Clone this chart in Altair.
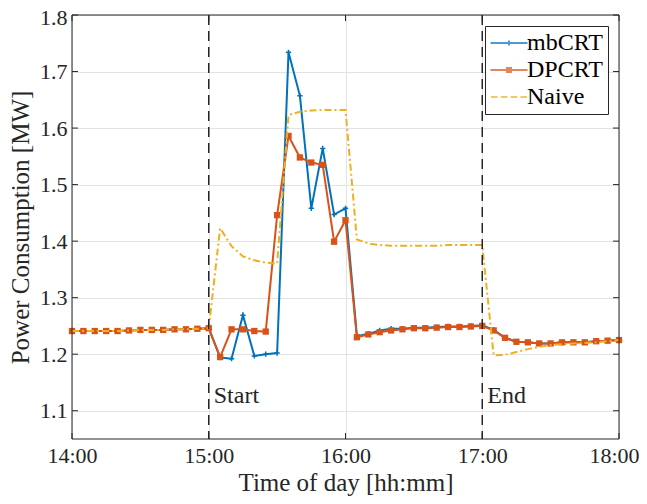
import altair as alt
import pandas as pd

# ---- data ----
minutes = list(range(0, 241, 5))  # minutes after 14:00, 5-min steps to 18:00

mbcrt = [1.241, 1.241, 1.241, 1.241, 1.241, 1.242, 1.243, 1.243, 1.243, 1.244, 1.244, 1.245, 1.246,
         1.194, 1.192, 1.269, 1.197, 1.200, 1.202, 1.734, 1.657, 1.458, 1.564, 1.447, 1.458,
         1.232, 1.236, 1.242, 1.245, 1.245, 1.247, 1.247, 1.248, 1.249, 1.249, 1.250, 1.251,
         1.243, 1.229, 1.222, 1.221, 1.219, 1.219, 1.221, 1.221, 1.221, 1.223, 1.224, 1.225]

dpcrt = [1.241, 1.241, 1.241, 1.241, 1.241, 1.242, 1.243, 1.243, 1.243, 1.244, 1.244, 1.245, 1.246,
         1.195, 1.244, 1.244, 1.241, 1.240, 1.446, 1.586, 1.548, 1.539, 1.535, 1.399, 1.437,
         1.230, 1.235, 1.239, 1.242, 1.244, 1.246, 1.246, 1.247, 1.248, 1.248, 1.249, 1.250,
         1.242, 1.229, 1.222, 1.221, 1.219, 1.219, 1.221, 1.221, 1.221, 1.223, 1.224, 1.225]

naive = [1.241, 1.241, 1.241, 1.241, 1.241, 1.242, 1.243, 1.243, 1.243, 1.244, 1.244, 1.245, 1.246,
         1.423, 1.391, 1.373, 1.366, 1.362, 1.360, 1.623, 1.629, 1.631, 1.632, 1.632, 1.632,
         1.403, 1.396, 1.393, 1.392, 1.392, 1.392, 1.392, 1.392, 1.393, 1.393, 1.393, 1.393,
         1.198, 1.199, 1.204, 1.209, 1.213, 1.216, 1.2175, 1.219, 1.220, 1.221, 1.223, 1.225]

series_names = ["mbCRT", "DPCRT", "Naive"]
series_colors = ["#0072BD", "#D95319", "#EDB120"]

x_ticks = [14, 15, 16, 17, 18]
y_ticks = [1.1, 1.2, 1.3, 1.4, 1.5, 1.6, 1.7, 1.8]
x_domain = [14, 18]
y_domain = [1.05, 1.8]

event_times = [15, 17]
event_labels = ["Start", "End"]

# ---- tables ----
hours = [14 + m / 60 for m in minutes]
frames = []
for name, vals in zip(series_names, [mbcrt, dpcrt, naive]):
    frames.append(pd.DataFrame({"t": hours, "v": vals, "series": name}))
df = pd.concat(frames, ignore_index=True)
df_mb = df[df.series == "mbCRT"]
df_dp = df[df.series == "DPCRT"]
df_nv = df[df.series == "Naive"]

W, H = 547, 424
SERIF = "Liberation Serif"
INK = "#262626"

axis_style = dict(labelFont=SERIF, labelFontSize=22, labelColor=INK, labelFlush=False,
                  titleFont=SERIF, titleFontSize=25, titleColor=INK, titleFontWeight="normal",
                  gridColor="#e3e3e3", gridWidth=1, grid=True, ticks=False, domain=False)

X = alt.X("t:Q", scale=alt.Scale(domain=x_domain, nice=False, zero=False),
          axis=alt.Axis(values=x_ticks, labelExpr="datum.value + ':00'",
                        labelOffset={"condition": {"test": "datum.value == 18", "value": -5}, "value": 0},
                        title="Time of day [hh:mm]", labelPadding=6, titlePadding=4,
                        **axis_style))
Y = alt.Y("v:Q", scale=alt.Scale(domain=y_domain, nice=False, zero=False),
          axis=alt.Axis(values=y_ticks, format=".1f", title="Power Consumption [MW]",
                        labelOffset={"condition": {"test": "datum.value > 1.75", "value": 2}, "value": 0},
                        labelPadding=5, titlePadding=6, **axis_style))

mb_line = alt.Chart(df_mb).mark_line(color=series_colors[0], strokeWidth=2).encode(x=X, y=Y)
mb_pts = alt.Chart(df_mb).mark_point(shape="M-1,0H1M0,-1V1", size=28, filled=False,
                                     color=series_colors[0], strokeWidth=1.5, opacity=1).encode(x=X, y=Y)
dp_line = alt.Chart(df_dp).mark_line(color=series_colors[1], strokeWidth=2).encode(x=X, y=Y)
dp_pts = alt.Chart(df_dp).mark_square(size=40, color=series_colors[1], opacity=1).encode(x=X, y=Y)
nv_line = alt.Chart(df_nv).mark_line(color=series_colors[2], strokeWidth=2,
                                     strokeDash=[7, 3, 2, 3]).encode(x=X, y=Y)

ev_df = pd.DataFrame({"t": event_times, "label": event_labels})
ev_rules = alt.Chart(ev_df).mark_rule(color=INK, strokeDash=[10, 6], strokeWidth=1.5).encode(x=X)
ev_text = alt.Chart(ev_df).mark_text(align="left", baseline="alphabetic", dx=5, font=SERIF,
                                     fontSize=24, color=INK).encode(
    x=X, y=alt.datum(1.114), text="label:N")

# frame + inward ticks
frame_x = alt.Chart(pd.DataFrame({"t": x_domain})).mark_rule(color=INK, strokeWidth=1).encode(x=X)
frame_y = alt.Chart(pd.DataFrame({"v": y_domain})).mark_rule(color=INK, strokeWidth=1).encode(y=Y)
xt_df = pd.DataFrame({"t": x_ticks})
yt_df = pd.DataFrame({"v": y_ticks})
xt_bot = alt.Chart(xt_df).mark_rule(color=INK).encode(x=X, y=alt.value(H), y2=alt.value(H - 6))
xt_top = alt.Chart(xt_df).mark_rule(color=INK).encode(x=X, y=alt.value(0), y2=alt.value(6))
yt_left = alt.Chart(yt_df).mark_rule(color=INK).encode(y=Y, x=alt.value(0), x2=alt.value(6))
yt_right = alt.Chart(yt_df).mark_rule(color=INK).encode(y=Y, x=alt.value(W), x2=alt.value(W - 6))

# legend carrier (no visible marks); symbol paths extend beyond the unit box
legend_paths = [
    "M-1.85,0H1.85M-0.25,0H0.25M0,-0.25V0.25",
    "M-1.85,0H1.85M-0.2,-0.2H0.2V0.2H-0.2ZM-0.1,-0.1H0.1V0.1H-0.1Z",
    "M-1.8,0H-1.15M-0.82,0H-0.17M0.17,0H0.82M1.15,0H1.8",
]
leg = alt.Legend(title=None, orient="top-right", offset=11, padding=5, strokeColor=INK,
                 fillColor="white", labelFont=SERIF, labelFontSize=24, labelColor="black",
                 symbolSize=400, symbolStrokeWidth=2, symbolOffset=7, labelOffset=6,
                 rowPadding=3, cornerRadius=0)
carrier = alt.Chart(df).transform_filter("datum.series == 'none'").mark_point(filled=False).encode(
    x=X, y=Y,
    color=alt.Color("series:N", scale=alt.Scale(domain=series_names, range=series_colors), legend=leg),
    shape=alt.Shape("series:N", scale=alt.Scale(domain=series_names, range=legend_paths), legend=leg),
)

chart = alt.layer(
    mb_line, mb_pts, dp_line, dp_pts, nv_line, ev_rules, ev_text,
    frame_x, frame_y, xt_bot, xt_top, yt_left, yt_right, carrier
).properties(
    width=W, height=H,
    autosize=alt.AutoSizeParams(type="none"),
    padding={"left": 64, "top": 7, "right": 20, "bottom": 57},
    background="white",
).configure_view(stroke=None)

chart.save("out.html", embed_options={"renderer": "svg", "actions": False})
